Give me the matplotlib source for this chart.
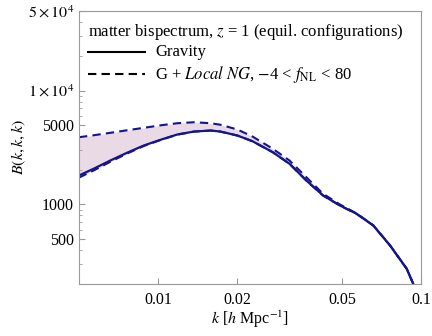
import numpy as np
import matplotlib
matplotlib.use("Agg")
import matplotlib.pyplot as plt
from matplotlib.ticker import FixedLocator, FixedFormatter, LogLocator, NullFormatter, NullLocator

plt.rcParams['font.family'] = ['Liberation Serif', 'DejaVu Serif']
plt.rcParams['mathtext.fontset'] = 'stix'

k = [0.005, 0.00568, 0.00658, 0.00761, 0.00882, 0.0102, 0.01182, 0.01369, 0.01584,
     0.01725, 0.02002, 0.02285, 0.0273, 0.0316, 0.0366, 0.0424, 0.0491, 0.0568,
     0.0658, 0.0762, 0.0882, 0.0935]

# gravity only
b_grav = [1797, 2056, 2432, 2841, 3293, 3694, 4112, 4366, 4459,
          4366, 4030, 3591, 2874, 2275, 1624, 1199, 980, 829,
          654, 437, 273, 200]

# G + local NG, fNL = 80 (upper edge of band)
b_up = [3892, 4050, 4256, 4480, 4707, 4950, 5166, 5271, 5166,
        5010, 4550, 3950, 3081, 2432, 1736, 1241, 1000, 835,
        657, 438, 273, 200]

# G + local NG, fNL = -4 (lower edge of band)
b_low = [1720, 1985, 2370, 2795, 3260, 3675, 4100, 4360, 4455,
         4362, 4027, 3589, 2872, 2274, 1623, 1198, 979, 828,
         653, 436, 272, 200]

fig = plt.figure(figsize=(4.32, 3.36), dpi=100)
ax = fig.add_axes([79/432, 1-284/336, (421-79)/432, (284-11)/336])

navy = '#14148c'
dash = (0, (4, 2.5))
ax.fill_between(k, b_low, b_up, color='#e9dae6', lw=0)
ax.plot(k, b_grav, color=navy, lw=1.6, ls='-')
ax.plot(k, b_up, color=navy, lw=1.5, ls=dash)
ax.plot(k, b_low, color=navy, lw=1.5, ls=dash)

ax.set_xscale('log')
ax.set_yscale('log')
ax.set_xlim(0.005, 0.1)
ax.set_ylim(200, 5e4)

xt = [0.01, 0.02, 0.05, 0.1]
ax.xaxis.set_major_locator(FixedLocator(xt))
ax.xaxis.set_major_formatter(FixedFormatter(['0.01', '0.02', '0.05', '0.1']))
ax.xaxis.set_minor_locator(NullLocator())

yt = [500, 1000, 5000, 1e4, 5e4]
ax.yaxis.set_major_locator(FixedLocator(yt))
ax.yaxis.set_major_formatter(FixedFormatter(['500', '1000', '5000', r'$1\times10^4$', r'$5\times10^4$']))
ax.yaxis.set_minor_locator(LogLocator(base=10, subs=np.arange(2, 10)))
ax.yaxis.set_minor_formatter(NullFormatter())

for s in ax.spines.values():
    s.set_color('#9a9a9a')
    s.set_linewidth(0.8)
ax.tick_params(which='both', direction='in', color='#9a9a9a', top=False, right=False,
               labelsize=11.5)
ax.tick_params(axis='x', pad=6)
ax.tick_params(axis='y', pad=3.5)
ax.tick_params(which='major', length=4)
ax.tick_params(which='minor', length=2)

ax.set_xlabel(r'$k$ [$h$ Mpc$^{-1}$]', fontsize=11.5)
ax.set_ylabel(r'$B(k,k,k)$', fontsize=11.5)
ax.xaxis.set_label_coords(0.5, -0.09)
ax.yaxis.set_label_coords(-0.15, 0.5)

# legend, drawn by hand to follow the original layout
fs = 12
ax.text(0.026, 0.923, r'matter bispectrum, $z$ = 1 (equil. configurations)',
        transform=ax.transAxes, fontsize=fs, va='center', ha='left')
ax.plot([0.026, 0.193], [0.85, 0.85], transform=ax.transAxes, color='black', lw=1.5)
ax.text(0.222, 0.85, 'Gravity', transform=ax.transAxes, fontsize=fs, va='center')
ax.plot([0.026, 0.193], [0.769, 0.769], transform=ax.transAxes, color='black', lw=1.5,
        ls=dash)
ax.text(0.222, 0.769, r'G + $\it{Local\ NG}$, $-$4 < $f_{\rm NL}$ < 80',
        transform=ax.transAxes, fontsize=fs, va='center')

fig.savefig('out.png', dpi=100)
